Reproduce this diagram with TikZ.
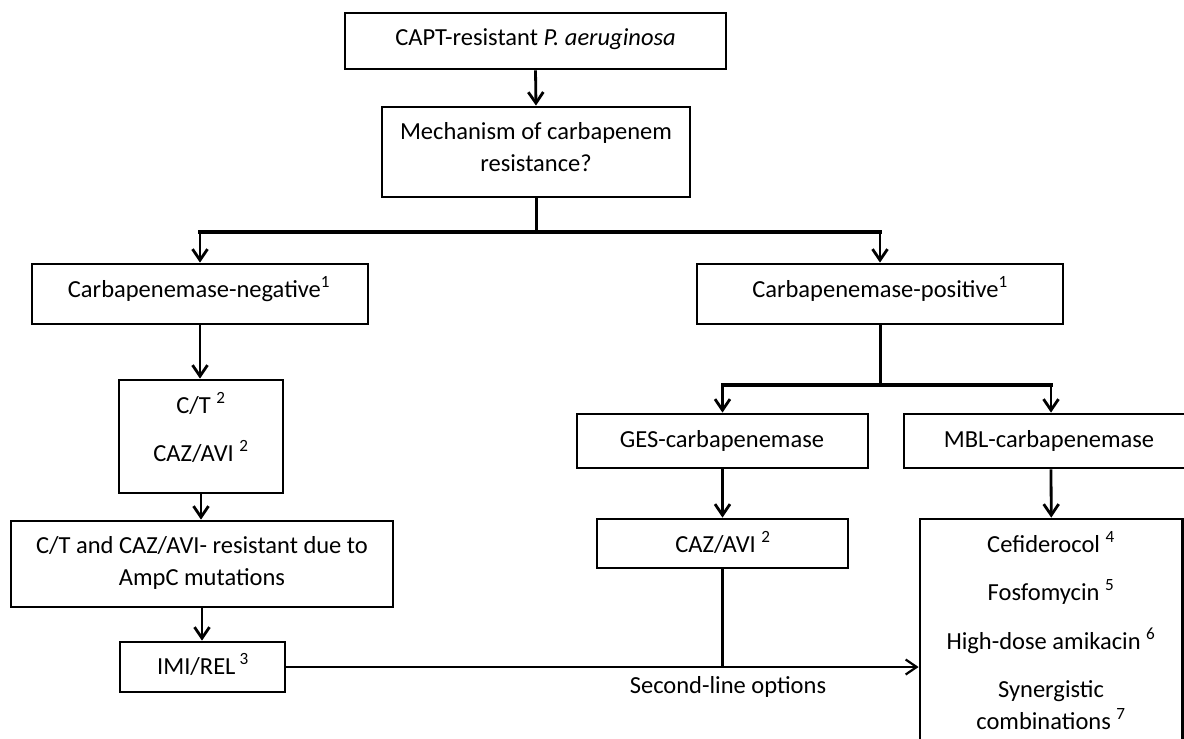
\documentclass[tikz,border=0pt]{standalone}
\usepackage{fontspec}
\setmainfont{Carlito}
\usetikzlibrary{arrows.meta}
\newcommand{\supnum}[1]{\textsuperscript{#1}}
\begin{document}
\begin{tikzpicture}[x=1pt,y=-1pt,
  box/.style={draw=black,line width=2.8pt,rectangle,inner sep=0pt},
  txt/.style={anchor=base,inner sep=0pt,font=\fontsize{24.5}{30}\selectfont},
  conn/.style={line width=3pt},
  split/.style={line width=4pt,line cap=rect},
  arr/.style={line width=2.8pt,-{Straight Barb[length=11pt,width=15pt]}},
  thinarr/.style={line width=2.2pt,-{Straight Barb[length=11pt,width=15pt]}}]
\useasboundingbox (0,0) rectangle (1184,739);
\clip (0,0) rectangle (1184,739);

% boxes
\node[box,minimum width=381pt,minimum height=56pt] (top) at (535.5,41) {};
\node[box,minimum width=308pt,minimum height=90pt] (mech) at (536,152) {};
\node[box,minimum width=336pt,minimum height=60pt] (neg) at (200,294) {};
\node[box,minimum width=366pt,minimum height=60pt] (pos) at (880,294) {};
\node[box,minimum width=164pt,minimum height=113pt] (ct) at (201,436.5) {};
\node[box,minimum width=382pt,minimum height=86pt] (ctres) at (202,564) {};
\node[box,minimum width=165pt,minimum height=50pt] (imi) at (202.5,667) {};
\node[box,minimum width=291pt,minimum height=54pt] (ges) at (722.5,441) {};
\node[box,minimum width=294pt,minimum height=54pt] (mbl) at (1051,441) {};
\node[box,minimum width=251pt,minimum height=49pt] (caz) at (722.5,543.5) {};
\node[box,minimum width=262.5pt,minimum height=281pt] (list) at (1051.25,659.5) {};

% texts
\node[txt] (toptext) at (535.5,45) {CAPT-resistant \textit{P. aeruginosa}};
\node[txt] (mech1) at (536,139) {Mechanism of carbapenem};
\node[txt] (mech2) at (536,171) {resistance?};
\node[txt] (negtext) at (199,297) {Carbapenemase-negative\supnum{1}};
\node[txt] (postext) at (880,297) {Carbapenemase-positive\supnum{1}};
\node[txt] (ct1) at (201,413) {C/T \supnum{2}};
\node[txt] (ct2) at (201,461) {CAZ/AVI \supnum{2}};
\node[txt] (ctres1) at (202,553) {C/T and CAZ/AVI- resistant due to};
\node[txt] (ctres2) at (202,585) {AmpC mutations};
\node[txt] (imitext) at (203,674) {IMI/REL\,\supnum{3}};
\node[txt] (gestext) at (722,447) {GES-carbapenemase};
\node[txt] (mbltext) at (1049,447) {MBL-carbapenemase};
\node[txt] (caztext) at (723,552) {CAZ/AVI \supnum{2}};
\node[txt] (l1) at (1051,552) {Cefiderocol \supnum{4}};
\node[txt] (l2) at (1051,600) {Fosfomycin \supnum{5}};
\node[txt] (l3) at (1051,649) {High-dose amikacin \supnum{6}};
\node[txt] (l4) at (1051,697) {Synergistic};
\node[txt] (l5) at (1051,729) {combinations \supnum{7}};
\node[txt] (second) at (728,693) {Second-line options};

% connectors
\draw[arr] (top.south) -- (mech.north);
\coordinate (s1) at (536,232);
\draw[conn] (mech.south) -- (s1);
\draw[split] (neg.north |- s1) -- (pos.north |- s1);
\draw[arr] (neg.north |- s1) -- (neg.north);
\draw[arr] (pos.north |- s1) -- (pos.north);
\draw[arr] (neg.south) -- (neg.south |- ct.north);
\draw[arr] (ct.south) -- (ct.south |- ctres.north);
\draw[arr] (ctres.south) -- (ctres.south |- imi.north);
\coordinate (s2) at (880,385);
\draw[conn] (pos.south) -- (s2);
\draw[split] (ges.north |- s2) -- (mbl.north |- s2);
\draw[arr] (ges.north |- s2) -- (ges.north);
\draw[arr] (mbl.north |- s2) -- (mbl.north);
\draw[arr] (ges.south) -- (caz.north);
\draw[arr] (mbl.south) -- (list.north);
\draw[conn] (caz.south) -- (caz.south |- imi.east);
\draw[thinarr] (imi.east) -- (imi.east -| list.west);
\end{tikzpicture}
\end{document}
